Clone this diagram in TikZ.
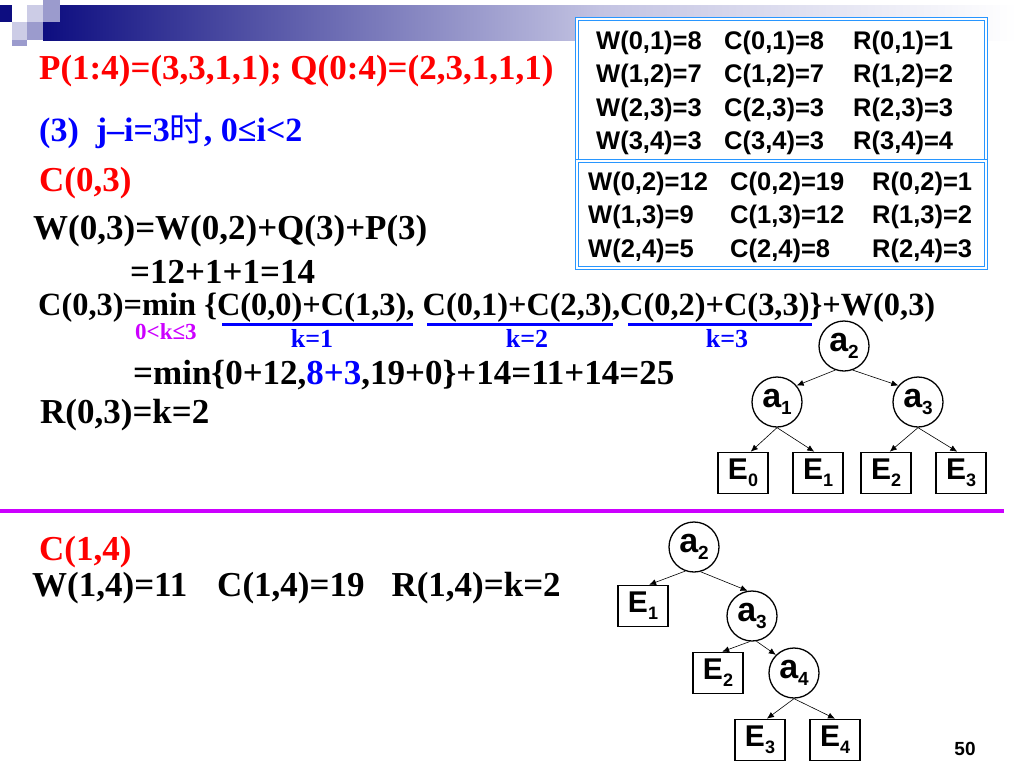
\documentclass[tikz,border=0pt]{standalone}
\usepackage{fontspec}
\setmainfont{Liberation Serif}
\setsansfont{Liberation Sans}
\newfontfamily\cjk{Noto Sans CJK SC}
\usetikzlibrary{arrows.meta}
\definecolor{sred}{RGB}{255,0,0}
\definecolor{sblue}{RGB}{0,0,255}
\definecolor{smagenta}{RGB}{204,0,255}
\definecolor{navy}{RGB}{13,13,128}
\definecolor{barmid}{RGB}{195,195,226}
\definecolor{lsquare}{RGB}{204,204,230}
\definecolor{msquare}{RGB}{155,155,205}
\definecolor{tblue}{RGB}{40,150,255}
\newcommand{\ix}[2][19]{\raisebox{-7pt}{\fontsize{#1}{#1}\selectfont #2}}
\tikzset{
      txt/.style={anchor=base west, inner sep=0pt, font=\fontsize{35}{40}\selectfont\bfseries},
      tab/.style={anchor=base west, inner sep=0pt, font=\sffamily\bfseries\fontsize{25.5}{30}\selectfont},
      tabbox/.style={draw=tblue, fill=white, line width=1.1pt, double=white, double distance=2.4pt},
      klabel/.style={anchor=base, inner sep=0pt, text=sblue, font=\fontsize{26}{28}\selectfont\bfseries},
      underl/.style={draw=sblue, line width=3pt},
      sepline/.style={draw=smagenta, line width=4.5pt},
      inode/.style={circle, draw, line width=1.3pt, minimum size=50pt, inner sep=0pt,
            font=\sffamily\bfseries\fontsize{34}{34}\selectfont},
      leaf/.style={rectangle, draw, line width=1.6pt, minimum width=50pt, minimum height=41pt, inner sep=0pt,
            font=\sffamily\bfseries\fontsize{30}{30}\selectfont},
      edge/.style={-{Latex[length=7pt,width=6pt]}, line width=0.6pt},
}
\begin{document}
\begin{tikzpicture}[x=1pt,y=-1pt]

        \useasboundingbox (0,0) rectangle (1017,782);

        % title bar
        \shade[left color=navy, right color=barmid] (43,5) rectangle (600,40);
        \shade[left color=barmid, right color=white] (600,5) rectangle (1017,40);
        \fill[navy] (0,5) rectangle (12,22);
        \fill[lsquare] (27,5) rectangle (43,22);
        \fill[msquare] (43,0) rectangle (60,22);
        \fill[lsquare] (12,22) rectangle (27,40);
        \fill[msquare] (27,22) rectangle (43,40);
        \fill[msquare] (12,40) rectangle (27,46);

        % table of earlier values
        \draw[tabbox] (577,19) rectangle (986,161);
        \draw[tabbox] (577,161) rectangle (986,268);
        \node[tab] (w01) at (596,49) {W(0,1)=8};
        \node[tab] (c01) at (724,49) {C(0,1)=8};
        \node[tab] (r01) at (853,49) {R(0,1)=1};
        \node[tab] (w12) at (596,82) {W(1,2)=7};
        \node[tab] (c12) at (724,82) {C(1,2)=7};
        \node[tab] (r12) at (853,82) {R(1,2)=2};
        \node[tab] (w23) at (596,116) {W(2,3)=3};
        \node[tab] (c23) at (724,116) {C(2,3)=3};
        \node[tab] (r23) at (853,116) {R(2,3)=3};
        \node[tab] (w34) at (596,149) {W(3,4)=3};
        \node[tab] (c34) at (724,149) {C(3,4)=3};
        \node[tab] (r34) at (853,149) {R(3,4)=4};
        \node[tab] (w02) at (588,190) {W(0,2)=12};
        \node[tab] (c02) at (730,190) {C(0,2)=19};
        \node[tab] (r02) at (872,190) {R(0,2)=1};
        \node[tab] (w13) at (588,223) {W(1,3)=9};
        \node[tab] (c13) at (730,223) {C(1,3)=12};
        \node[tab] (r13) at (872,223) {R(1,3)=2};
        \node[tab] (w24) at (588,257) {W(2,4)=5};
        \node[tab] (c24) at (730,257) {C(2,4)=8};
        \node[tab] (r24) at (872,257) {R(2,4)=3};

        % computation of C(0,3)
        \node[txt, text=sred] (pq) at (39,79) {P(1:4)=(3,3,1,1); Q(0:4)=(2,3,1,1,1)};
        \node[txt, text=sblue, font=\fontsize{34}{38}\selectfont\bfseries] (cond) at (39,141)
              {(3)\ \ j–i=3{\cjk\mdseries 时}, 0≤i<2};
        \node[txt, text=sred] (c03) at (39,191) {C(0,3)};
        \node[txt] (w03) at (33,239) {W(0,3)=W(0,2)+Q(3)+P(3)};
        \node[txt] (w03sum) at (130,283) {=12+1+1=14};
        \node[txt, font=\fontsize{32.4}{36}\selectfont\bfseries] (cmin) at (38,315)
              {C(0,3)=min \{C(0,0)+C(1,3), C(0,1)+C(2,3),C(0,2)+C(3,3)\}+W(0,3)};
        \node[txt, text=smagenta, font=\fontsize{23}{25}\selectfont\bfseries] (krange) at (135,339) {0<k≤3};

        \draw[underl] (222,324) -- (413,324);
        \draw[underl] (427,324) -- (613,324);
        \draw[underl] (628,324) -- (812,324);
        \node[klabel] (k1) at (312,347) {k=1};
        \node[klabel] (k2) at (527,347) {k=2};
        \node[klabel] (k3) at (727,347) {k=3};

        \node[txt] (cval) at (133,384) {=min\{0+12,\textcolor{sblue}{8+3},19+0\}+14=11+14=25};
        \node[txt] (r03) at (40,423) {R(0,3)=k=2};

        % tree for (0,3)
        \node[inode] (ta2) at (844,346) {a\ix{2}};
        \node[inode] (ta1) at (777,402) {a\ix{1}};
        \node[inode] (ta3) at (918,402) {a\ix{3}};
        \node[leaf] (te0) at (743,473) {E\ix[18]{0}};
        \node[leaf] (te1) at (818,473) {E\ix[18]{1}};
        \node[leaf] (te2) at (886,473) {E\ix[18]{2}};
        \node[leaf] (te3) at (961,473) {E\ix[18]{3}};
        \draw[edge] (ta2.-110) -- (ta1.40);
        \draw[edge] (ta2.-70) -- (ta3.140);
        \draw[edge] (ta1.south) -- (te0.70);
        \draw[edge] (ta1.south) -- (te1.100);
        \draw[edge] (ta3.south) -- (te2.80);
        \draw[edge] (ta3.south) -- (te3.100);

        \draw[sepline] (0,511) -- (1004,511);

        % C(1,4)
        \node[txt, text=sred] (c14) at (39,560) {C(1,4)};
        \node[txt] (res14) at (32,596) {W(1,4)=11\hspace{30pt}C(1,4)=19\hspace{27pt}R(1,4)=k=2};

        % tree for (1,4)
        \node[inode] (ba2) at (694,547) {a\ix{2}};
        \node[leaf] (be1) at (643,606) {E\ix[18]{1}};
        \node[inode] (ba3) at (752,616) {a\ix{3}};
        \node[leaf] (be2) at (718,673) {E\ix[18]{2}};
        \node[inode] (ba4) at (794,673) {a\ix{4}};
        \node[leaf] (be3) at (760,740) {E\ix[18]{3}};
        \node[leaf] (be4) at (835,740) {E\ix[18]{4}};
        \draw[edge] (ba2.-110) -- (be1.74);
        \draw[edge] (ba2.-75) -- (ba3.100);
        \draw[edge] (ba3.-95) -- (be2.79);
        \draw[edge] (ba3.-80) -- (ba4.135);
        \draw[edge] (ba4.-90) -- (be3.72);
        \draw[edge] (ba4.-90) -- (be4.north);

        \node[inner sep=0pt, font=\sffamily\bfseries\fontsize{19}{19}\selectfont] (pageno) at (965,749) {50};

    \end{tikzpicture}
\end{document}
